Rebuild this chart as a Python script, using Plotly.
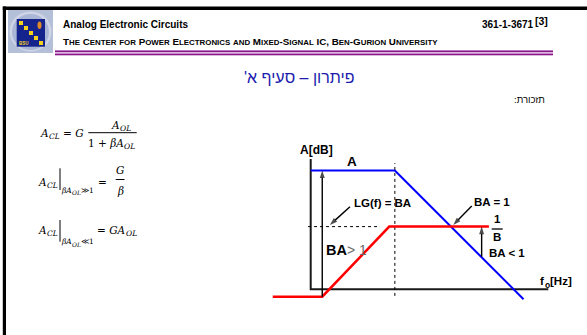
import plotly.graph_objects as go

# ---- Bode sketch data: x in decades from the gain axis, y in dB ----
open_loop_x = [0.0, 2.55, 6.45]          # A (open-loop gain)
open_loop_db = [72, 72, -6]
loop_gain_x = [-1.15, 0.35, 2.38, 5.4]   # loop gain rising to the 1/B level
loop_gain_db = [-4.5, -4.5, 38, 38]
freq_axis_x = [0.0, 7.2]
gain_axis_db = [0, 79]
corner_marker_db = [-4, 76.5]
feedback_marker_x = [-0.08, 2.04]
lg_pointer_tail = [1.19, 50.0]
lg_pointer_head = [0.58, 39.0]
ba1_pointer_tail = [4.88, 50.5]
ba1_pointer_head = [4.32, 39.0]
below_one_arrow_x = 5.18
below_one_arrow_from_db = 19.8

W, H = 587, 335
ORIGIN_X, ORIGIN_Y = 310.7, 289.3   # page position of the sketch origin
PX_PER_DEC, PX_PER_DB = 33.0, 1.65


def P(x, y):
    """Page pixel -> paper fraction."""
    return x / W, 1 - y / H


fig = go.Figure()

# axes of the sketch
fig.add_trace(go.Scatter(
    x=[freq_axis_x[0], freq_axis_x[0], freq_axis_x[1]],
    y=[gain_axis_db[1], gain_axis_db[0], gain_axis_db[0]],
    mode="lines", line=dict(color="#1a1a1a", width=2), hoverinfo="skip"))

# dotted guides
fig.add_trace(go.Scatter(
    x=[open_loop_x[1], open_loop_x[1]], y=corner_marker_db,
    mode="lines", line=dict(color="black", width=1, dash="dot"), hoverinfo="skip"))
fig.add_trace(go.Scatter(
    x=feedback_marker_x, y=[loop_gain_db[2], loop_gain_db[2]],
    mode="lines", line=dict(color="black", width=1, dash="dot"), hoverinfo="skip"))

# curves
fig.add_trace(go.Scatter(x=open_loop_x, y=open_loop_db, mode="lines",
                         line=dict(color="#0000ff", width=2), hoverinfo="skip"))
fig.add_trace(go.Scatter(x=loop_gain_x, y=loop_gain_db, mode="lines",
                         line=dict(color="#ff0000", width=2.5), hoverinfo="skip"))


def arrow_trace(tail, head):
    fig.add_trace(go.Scatter(
        x=[tail[0], head[0]], y=[tail[1], head[1]], mode="lines+markers",
        line=dict(color="black", width=1.4),
        marker=dict(symbol="arrow", angleref="previous", size=[0, 8], color="black",
                    line=dict(width=0)),
        hoverinfo="skip"))


arrow_trace([loop_gain_x[1], loop_gain_db[0]], [loop_gain_x[1], open_loop_db[0]])
arrow_trace(lg_pointer_tail, lg_pointer_head)
arrow_trace(ba1_pointer_tail, ba1_pointer_head)
arrow_trace([below_one_arrow_x, below_one_arrow_from_db], [below_one_arrow_x, loop_gain_db[-1]])

SANS = "Liberation Sans, Arial, sans-serif"
SERIF = "DejaVu Serif, serif"


def label(text, x, y, size=11.5, anchor="left", color="black", family=SANS, valign="middle"):
    px, py = P(x, y)
    fig.add_annotation(xref="paper", yref="paper", x=px, y=py, text=text,
                       showarrow=False, xanchor=anchor, yanchor=valign,
                       font=dict(family=family, size=size, color=color),
                       borderpad=0)


def hline(x0, x1, y, color="black", width=1.0):
    a0, b0 = P(x0, y)
    a1, _ = P(x1, y)
    fig.add_shape(type="line", xref="paper", yref="paper", x0=a0, x1=a1, y0=b0, y1=b0,
                  line=dict(color=color, width=width))


def vline(x, y0, y1, color="black", width=1.0):
    a, b0 = P(x, y0)
    _, b1 = P(x, y1)
    fig.add_shape(type="line", xref="paper", yref="paper", x0=a, x1=a, y0=b0, y1=b1,
                  line=dict(color=color, width=width))


def rect(x0, y0, x1, y1, fill, kind="rect"):
    a0, b0 = P(x0, y0)
    a1, b1 = P(x1, y1)
    fig.add_shape(type=kind, xref="paper", yref="paper", x0=a0, x1=a1, y0=b0, y1=b1,
                  fillcolor=fill, line=dict(width=0), layer="above")


# ---- sketch labels ----
label("<b>A[dB]</b>", 299, 150, size=12)
label("<b>A</b>", 352, 161.5, size=13.5, anchor="center")
label("<b>LG(f) = BA</b>", 353, 202.5, size=11.5)
label("<b>BA = 1</b>", 473, 201.5, size=11.5)
label("<b>1</b>", 497.3, 219, size=11.5, anchor="center")
hline(491.7, 502.7, 229, width=1.3)
label("<b>B</b>", 497.3, 236.5, size=11.5, anchor="center")
label("<b>BA < 1</b>", 487.5, 253, size=11.5)
label("<b>BA</b>", 324.5, 250, size=14.5)
label("> 1", 346, 250, size=14, color="#6b6b6b")
label("<b>f</b>", 538.5, 281, size=11.5)
label("<b>o</b>", 543.5, 285, size=8.5)
label("<b>[Hz]</b>", 548.5, 281, size=11.5)

# ---- formulas (base symbol right-anchored, subscript left-anchored at the join) ----
FS, SS, SS2 = 10.5, 7.5, 6.0


def with_sub(base, sub, join_x, y, base_size=FS, sub_size=SS, drop=3.6, tuck=2.0):
    label(base, join_x, y, size=base_size, anchor="right", family=SERIF)
    label(sub, join_x - tuck, y + drop, size=sub_size, family=SERIF)


# A_CL = G * A_OL / (1 + beta*A_OL)
with_sub("<i>A</i>", "<i>CL</i>", 50, 133)
label("= <i>G</i>", 61.5, 133, size=FS, family=SERIF)
with_sub("<i>A</i>", "<i>OL</i>", 121, 124.5)
hline(88.3, 136.7, 132.7, width=1)
with_sub("1 + <i>βA</i>", "<i>OL</i>", 125, 143)

# A_CL | (beta*A_OL >> 1) = G / beta
with_sub("<i>A</i>", "<i>CL</i>", 48, 181.5)
vline(60, 168.3, 190, width=1)
with_sub("<i>βA</i>", "<i>OL</i>", 72.5, 190.5, base_size=SS, sub_size=SS2, drop=2.5, tuck=1.3)
label("≫1", 80, 190.5, size=SS, family=SERIF)
label("=", 102.7, 181.5, size=FS, anchor="center", family=SERIF)
label("<i>G</i>", 120, 170, size=FS, anchor="center", family=SERIF)
hline(115.7, 124.5, 179.5, width=1)
label("<i>β</i>", 120, 190.5, size=FS, anchor="center", family=SERIF)

# A_CL | (beta*A_OL << 1) = G*A_OL
with_sub("<i>A</i>", "<i>CL</i>", 48, 230)
vline(60, 220, 241.7, width=1)
with_sub("<i>βA</i>", "<i>OL</i>", 72.5, 241.5, base_size=SS, sub_size=SS2, drop=2.5, tuck=1.3)
label("≪1", 80, 241.5, size=SS, family=SERIF)
with_sub("= <i>GA</i>", "<i>OL</i>", 127, 230)

# ---- slide title and note ----
label("\u200fפיתרון – סעיף א'\u200f", 299, 77, size=16, anchor="center",
      color="#1c1cae", family="Liberation Sans, Arial")
label("\u200fתזכורת:\u200f", 529.5, 99.5, size=9.5, anchor="center", family=SANS)


# ---- header ----
def small_caps(text, small):
    """Bold small-caps: lowercase runs are set upper-case at a smaller size."""
    out, run = [], ""
    for ch in text + " ":
        if ch.islower():
            run += ch.upper()
            continue
        if run:
            out.append(f'<span style="font-size:{small}px">{run}</span>')
            run = ""
        out.append(ch)
    return "<b>" + "".join(out).rstrip() + "</b>"


label("<b>Analog Electronic Circuits</b>", 61.5, 25, size=10)
label("<b>361-1-3671</b>", 480.5, 25, size=10)
label("<b>[3]</b>", 534, 21.5, size=10.5)
label(small_caps("The Center for Power Electronics and Mixed-Signal IC, Ben-Gurion University", 7.9),
      61.5, 42, size=9.8)

# purple rule under the header
rect(55, 50.6, 553, 55.2, "#dcb6dc")
hline(55, 553, 51.3, color="#8a168a", width=1.4)
hline(55, 553, 54.5, color="#8a168a", width=1.4)

# page frame
rect(2.8, 6.5, 587, 10, "black")
rect(2.8, 6.5, 6, 335, "black")

# ---- logo ----
rect(8, 10, 53, 53, "#b4bfd8")
rect(9.5, 11.5, 51.5, 51.5, "#cfd4e6", kind="circle")
rect(12, 14, 49, 50, "#a9b6d6", kind="circle")
rect(16.7, 19, 45, 46.7, "#15238c")
for cx, cy in [(21, 23), (26, 28), (31, 33), (36, 38), (41, 43)]:
    rect(cx - 2, cy - 2, cx + 2, cy + 2, "#f2d21c")
rect(37.5, 21.5, 41.5, 29, "#e08a2a", kind="circle")
label("<b>BSU</b>", 23.5, 43.5, size=4.5, anchor="center", color="#f2d21c")

fig.update_layout(
    width=W, height=H, autosize=False,
    margin=dict(l=0, r=0, t=0, b=0),
    paper_bgcolor="white", plot_bgcolor="white",
    showlegend=False,
    xaxis=dict(visible=False, range=[-ORIGIN_X / PX_PER_DEC, (W - ORIGIN_X) / PX_PER_DEC],
               fixedrange=True),
    yaxis=dict(visible=False, range=[(ORIGIN_Y - H) / PX_PER_DB, ORIGIN_Y / PX_PER_DB],
               fixedrange=True),
)

fig.write_html("out.html", config={"displayModeBar": False})
